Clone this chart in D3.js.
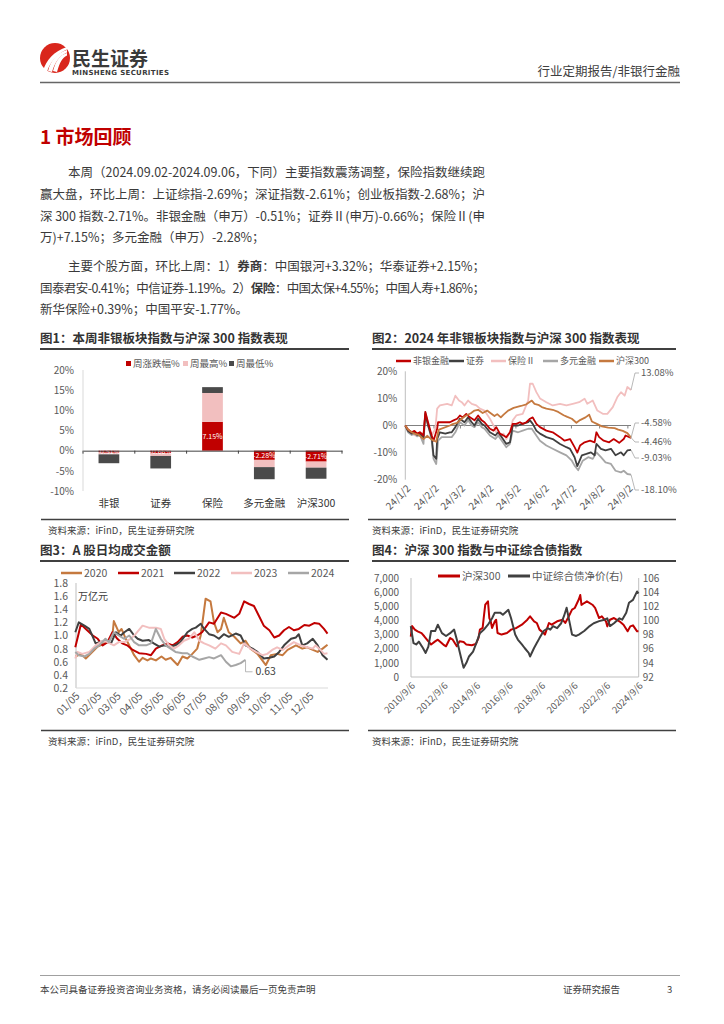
<!DOCTYPE html>
<html>
<head>
<meta charset="utf-8">
<script src="https://cdn.jsdelivr.net/npm/d3@7"></script>
<style>
body { margin: 0; background: #fff; }
svg { display: block; font-family: "Noto Sans CJK SC", "Noto Sans", sans-serif; }
</style>
</head>
<body>
<script>
// ---------- data ----------
// fig 1: weekly performance (stacked segments)
var fig1Cats = ["非银", "证券", "保险", "多元金融", "沪深300"];
var fig1Keys = ["周涨跌幅%", "周最高%", "周最低%"];
var fig1Change = [-0.51, -0.66, 7.15, -2.28, -2.71];
var fig1High = [-0.4, -0.65, 7.15, -1.8, -1.5];
var fig1Low = [-2.2, -3.1, 1.45, -3.0, -2.75];

// fig 2: 2024 ytd, % (date MM-DD, value)
var fig2Names = ["非银金融", "证券", "保险Ⅱ", "多元金融", "沪深300"];
var fig2Feiyin = [["01-02",0],["01-05",-1.5],["01-09",-2.5],["01-12",-2],["01-15",-3],["01-18",-2.5],["01-22",-3.7],["01-24",5],["01-27",1.2],["01-31",-3.7],["02-02",-5.6],["02-06",-1.2],["02-07",1.2],["02-15",1.2],["02-20",1.2],["02-24",1.9],["02-28",2.5],["03-02",3.7],["03-05",3],["03-09",4.3],["03-13",3],["03-18",1.9],["03-22",3.7],["03-26",1.9],["03-29",1.2],["04-04",-1.2],["04-08",-1.9],["04-11",-0.6],["04-15",-3],["04-19",-3.7],["04-22",-4.3],["04-26",-2.5],["04-29",0.6],["05-03",0.6],["05-07",1.2],["05-10",0.6],["05-14",1.2],["05-18",2.5],["05-21",3],["05-25",0.6],["05-29",-0.6],["06-05",-1.9],["06-12",-2.5],["06-20",-4.3],["06-25",-5.6],["07-01",-5],["07-06",-8],["07-09",-10],["07-12",-7.4],["07-17",-6.2],["07-23",-5.6],["07-28",-6.2],["07-30",-2.5],["08-02",-4.3],["08-07",-5.6],["08-13",-6.2],["08-18",-5],["08-24",-6.4],["08-29",-5],["08-31",-3.7],["09-06",-4.58]];
var fig2Zhengquan = [["01-02",0],["01-05",-2],["01-09",-3],["01-12",-2.5],["01-15",-3.5],["01-18",-3],["01-22",-4.5],["01-24",4.3],["01-27",0],["01-31",-4.3],["02-02",-11],["02-05",-12.3],["02-06",-5],["02-09",-2.5],["02-15",-3],["02-20",-2.5],["02-22",-2.5],["02-26",-0.6],["03-02",2.5],["03-07",1.2],["03-11",3],["03-15",1.2],["03-18",0],["03-22",2.5],["03-26",0.6],["03-29",0],["04-04",-2.5],["04-10",-3.7],["04-13",-2.5],["04-17",-4.3],["04-22",-6.8],["04-26",-6.2],["04-29",0],["05-05",0],["05-10",0.6],["05-16",1.2],["05-18",1.9],["05-21",0.6],["05-25",-1.9],["05-29",-3],["06-05",-4.3],["06-12",-5],["06-20",-6.8],["06-27",-8],["07-01",-8.6],["07-06",-11.7],["07-09",-15],["07-14",-11],["07-19",-10.5],["07-24",-9.9],["07-28",-11],["07-30",-6.8],["08-04",-8.6],["08-09",-9.2],["08-15",-8.6],["08-20",-11],["08-26",-9.9],["08-29",-11],["09-02",-9.2],["09-06",-9.03]];
var fig2Baoxian = [["01-02",0],["01-05",-2],["01-09",-3],["01-13",-3.7],["01-18",-2.5],["01-22",-3],["01-24",4.3],["01-27",0],["01-31",-3.7],["02-04",-1.2],["02-06",6.2],["02-09",7.4],["02-17",8],["02-22",7.4],["02-26",11],["03-01",9.2],["03-04",8.6],["03-07",7.4],["03-11",9.2],["03-15",8],["03-20",7.4],["03-24",6.2],["03-29",5.5],["04-04",2.5],["04-08",0],["04-11",-2.5],["04-15",-3.7],["04-19",-3],["04-22",-5],["04-26",-2.5],["04-29",1.9],["05-03",3.7],["05-10",4.3],["05-16",9.2],["05-18",15.4],["05-21",15.4],["05-25",12.3],["05-29",10],["06-05",8.6],["06-12",7.4],["06-20",8],["06-27",7.4],["07-04",8],["07-11",8.6],["07-17",9.9],["07-20",8],["07-26",9.2],["07-31",5.5],["08-06",4.3],["08-11",4.3],["08-17",6.8],["08-22",10.5],["08-26",12.3],["08-30",11],["09-02",14.2],["09-06",13.08]];
var fig2Duoyuan = [["01-02",0],["01-05",-2.5],["01-09",-3.5],["01-12",-3],["01-15",-4],["01-18",-3.5],["01-22",-6.8],["01-24",5],["01-27",0.6],["01-31",-5.6],["02-02",-12.3],["02-05",-14.2],["02-07",-5.6],["02-11",-4.3],["02-20",-4.3],["02-22",-4.3],["02-26",-2.5],["03-02",1.2],["03-07",0],["03-11",1.9],["03-15",0],["03-18",-0.6],["03-22",1.2],["03-26",-0.6],["03-29",-1.2],["04-04",-3.7],["04-10",-5],["04-13",-3.7],["04-17",-5.6],["04-22",-8],["04-26",-6.8],["04-29",-1.9],["05-05",-2.5],["05-10",-1.9],["05-16",-1.2],["05-20",-1.2],["05-25",-3.7],["05-29",-5.6],["06-05",-7.4],["06-12",-8.6],["06-20",-9.9],["06-27",-11],["07-03",-13],["07-06",-14.8],["07-10",-16.5],["07-15",-13],["07-21",-11.7],["07-26",-12.3],["07-30",-9.9],["08-04",-11.7],["08-09",-13.6],["08-15",-14.2],["08-20",-16.7],["08-26",-17.3],["08-29",-16.7],["09-02",-17.9],["09-06",-18.1]];
var fig2Hs300 = [["01-02",0],["01-05",-1.5],["01-09",-2.5],["01-12",-3],["01-17",-3.5],["01-22",-5],["01-26",-3.8],["01-31",-5.2],["02-05",-6],["02-07",-2.5],["02-08",-1.5],["02-20",0],["02-23",0.5],["02-28",1],["03-04",2.5],["03-08",3.5],["03-14",4.5],["03-18",5.5],["03-22",5.8],["03-27",4.6],["04-01",5.5],["04-03",5],["04-09",3.5],["04-12",4.2],["04-16",3],["04-19",4],["04-24",5.5],["04-30",6.5],["05-08",7.2],["05-14",7.8],["05-20",9.2],["05-23",8],["05-28",7.5],["05-31",6.8],["06-05",6.2],["06-12",5.8],["06-18",5],["06-24",3.8],["06-28",3.2],["07-03",2.5],["07-08",1],["07-12",2],["07-18",3],["07-22",4],["07-25",1.5],["07-31",0.5],["08-05",-0.3],["08-12",-0.8],["08-19",-1],["08-23",-1.5],["08-28",-2],["09-02",-2.8],["09-06",-4.46]];
var fig2EndLabels = ["-4.58%", "-9.03%", "13.08%", "-18.10%", "-4.46%"];
var fig2YTicks = [-20, -10, 0, 10, 20];

// fig 3: A-share daily turnover, trillion yuan
var fig3Years = ["2020", "2021", "2022", "2023", "2024"];
var fig3Y2020 = [["01-05",0.68],["01-13",0.72],["01-20",0.65],["02-06",0.83],["02-20",0.9],["02-27",1.0],["03-01",1.22],["03-08",1.05],["03-12",1.1],["03-18",0.95],["03-23",0.85],["03-30",0.7],["04-06",0.6],["04-11",0.66],["04-18",0.62],["04-23",0.65],["04-30",0.62],["05-08",0.68],["05-14",0.63],["05-21",0.66],["05-31",0.55],["06-07",0.68],["06-14",0.65],["06-21",0.72],["06-28",0.8],["07-03",1.0],["07-10",1.56],["07-17",1.52],["07-22",1.2],["07-27",1.05],["08-01",1.1],["08-05",1.27],["08-12",1.05],["08-20",0.98],["08-29",0.88],["09-05",0.92],["09-12",0.8],["09-22",0.72],["10-04",0.55],["10-11",0.7],["10-20",0.72],["10-28",0.7],["11-04",0.78],["11-16",0.85],["11-25",0.8],["12-02",0.82],["12-10",0.78],["12-17",0.75],["12-24",0.8],["12-31",0.86]];
var fig3Y2021 = [["01-05",0.82],["01-13",1.17],["01-20",1.1],["01-30",1.0],["02-06",0.95],["02-13",0.85],["02-20",0.9],["02-27",1.05],["03-06",0.95],["03-13",0.88],["03-20",0.85],["03-28",0.78],["04-06",0.73],["04-16",0.72],["04-23",0.7],["04-30",0.8],["05-09",0.85],["05-17",0.88],["05-24",0.85],["05-31",0.9],["06-07",0.98],["06-14",1.0],["06-21",0.97],["06-28",1.0],["07-05",1.05],["07-15",1.2],["07-22",1.18],["08-01",1.35],["08-08",1.33],["08-20",1.27],["08-27",1.33],["09-03",1.52],["09-10",1.48],["09-17",1.45],["09-24",1.3],["10-01",1.15],["10-09",1.08],["10-16",0.97],["10-23",1.0],["10-30",1.08],["11-06",1.13],["11-13",1.08],["11-20",1.1],["11-28",1.16],["12-05",1.15],["12-12",1.19],["12-19",1.18],["12-26",1.1],["12-31",1.03]];
var fig3Y2022 = [["01-05",1.05],["01-10",1.2],["01-18",1.15],["01-25",1.1],["01-30",0.98],["02-03",0.88],["02-10",0.9],["02-17",0.92],["02-25",0.88],["03-04",1.05],["03-11",1.0],["03-16",1.05],["03-23",1.1],["03-30",1.0],["04-04",0.95],["04-11",0.92],["04-20",0.93],["04-27",0.88],["05-05",0.83],["05-12",0.85],["05-19",0.83],["05-28",0.85],["06-04",0.9],["06-14",1.05],["06-21",1.1],["06-26",1.12],["07-03",1.18],["07-08",1.1],["07-15",1.02],["07-22",1.0],["07-29",0.95],["08-05",1.02],["08-12",0.98],["08-22",1.03],["08-29",1.0],["09-05",0.85],["09-15",0.8],["09-22",0.75],["10-01",0.65],["10-09",0.66],["10-16",0.68],["10-23",0.75],["10-30",0.85],["11-09",0.95],["11-16",0.97],["11-20",1.02],["11-25",0.85],["12-02",0.88],["12-10",0.95],["12-17",0.85],["12-24",0.7],["12-31",0.63]];
var fig3Y2023 = [["01-05",0.65],["01-08",0.75],["01-15",0.72],["01-25",0.75],["02-03",0.85],["02-13",0.92],["02-20",0.9],["03-01",0.85],["03-08",0.9],["03-16",0.9],["03-25",0.95],["04-01",1.02],["04-11",1.15],["04-20",1.12],["04-30",1.12],["05-07",1.1],["05-12",0.95],["05-19",0.85],["05-26",0.8],["06-02",0.85],["06-09",0.92],["06-16",0.95],["06-24",1.05],["07-01",0.92],["07-08",0.88],["07-15",0.85],["07-24",0.8],["08-01",0.88],["08-08",0.85],["08-17",0.75],["08-27",0.72],["09-03",0.88],["09-12",0.8],["09-20",0.75],["09-29",0.7],["10-06",0.72],["10-13",0.78],["10-20",0.82],["10-28",0.78],["11-06",0.85],["11-13",0.9],["11-23",0.85],["12-02",0.82],["12-10",0.8],["12-14",0.85],["12-21",0.78],["12-26",0.72],["12-31",0.73]];
var fig3Y2024 = [["01-05",0.75],["01-10",0.7],["01-18",0.68],["01-25",0.72],["02-01",0.8],["02-08",0.85],["02-17",0.95],["02-22",0.9],["03-01",1.05],["03-08",1.0],["03-16",0.95],["03-23",1.0],["03-30",0.9],["04-06",0.85],["04-16",0.85],["04-23",0.88],["04-30",1.1],["05-07",0.95],["05-14",0.85],["05-21",0.8],["05-28",0.75],["06-07",0.73],["06-14",0.73],["06-21",0.68],["07-01",0.63],["07-08",0.65],["07-15",0.67],["07-22",0.65],["08-01",0.7],["08-08",0.6],["08-15",0.53],["08-22",0.55],["08-29",0.58],["09-05",0.63]];
var fig3YTicks = [0.2, 0.4, 0.6, 0.8, 1.0, 1.2, 1.4, 1.6, 1.8];

// fig 4: CSI300 (left) vs CSI aggregate bond clean price (right)
var fig4Names = ["沪深300", "中证综合债净价(右)"];
var fig4Hs300 = [["2010-09",2850],["2010-10",3600],["2010-12",3350],["2011-02",3230],["2011-05",3100],["2011-07",2880],["2011-10",2520],["2011-12",2300],["2012-03",2520],["2012-05",2640],["2012-09",2290],["2012-11",2170],["2013-02",2760],["2013-04",2640],["2013-07",2170],["2013-09",2520],["2013-12",2480],["2014-02",2290],["2014-06",2240],["2014-09",2330],["2014-11",2760],["2014-12",3350],["2015-02",3470],["2015-03",4290],["2015-04",5110],["2015-06",5350],["2015-07",4170],["2015-08",3940],["2015-09",3470],["2015-11",3940],["2015-12",4050],["2016-01",3110],["2016-04",3000],["2016-08",3110],["2016-11",3350],["2017-03",3470],["2017-07",3700],["2017-11",4050],["2018-01",4290],["2018-04",3940],["2018-06",3820],["2018-08",3350],["2018-11",3110],["2018-12",3000],["2019-03",3820],["2019-05",3700],["2019-09",3940],["2020-01",4050],["2020-03",3820],["2020-05",4170],["2020-08",4760],["2020-10",4880],["2021-01",5500],["2021-02",5800],["2021-03",5100],["2021-05",5230],["2021-07",5350],["2021-11",5110],["2022-01",4880],["2022-04",4170],["2022-06",4290],["2022-09",3940],["2022-10",3580],["2022-12",4050],["2023-03",4170],["2023-07",3940],["2023-10",3700],["2024-01",3230],["2024-03",3580],["2024-05",3650],["2024-08",3230],["2024-09",3230]];
var fig4Bond = [["2010-09",99.2],["2010-11",96.8],["2011-01",96.6],["2011-03",97.0],["2011-06",96.1],["2011-08",95.4],["2011-10",96.3],["2011-12",98.5],["2012-03",98.5],["2012-05",99.4],["2012-08",98.2],["2012-11",97.8],["2013-02",98.2],["2013-05",98.7],["2013-07",97.3],["2013-09",95.6],["2013-11",94.0],["2013-12",93.3],["2014-02",94.0],["2014-04",94.9],["2014-07",95.6],["2014-09",96.6],["2014-12",98.2],["2015-03",98.7],["2015-06",99.4],["2015-09",100.3],["2015-11",101.1],["2016-03",101.1],["2016-05",100.8],["2016-09",101.5],["2016-11",100.3],["2017-02",98.0],["2017-04",97.3],["2017-07",96.6],["2017-09",96.1],["2017-12",95.4],["2018-01",94.9],["2018-04",96.1],["2018-06",96.8],["2018-08",97.5],["2018-11",98.5],["2019-02",98.9],["2019-04",98.7],["2019-06",99.2],["2019-09",98.9],["2019-12",99.6],["2020-02",100.6],["2020-04",101.8],["2020-06",99.9],["2020-08",98.0],["2020-11",97.8],["2021-01",98.0],["2021-05",98.5],["2021-09",99.2],["2021-12",99.6],["2022-04",99.9],["2022-08",100.1],["2022-10",100.3],["2022-12",99.2],["2023-03",99.6],["2023-07",100.3],["2023-09",100.1],["2023-12",101.1],["2024-02",102.5],["2024-05",102.9],["2024-08",104.1],["2024-09",103.8]];
var fig4LeftTicks = [0, 1000, 2000, 3000, 4000, 5000, 6000, 7000];
var fig4RightTicks = [92, 94, 96, 98, 100, 102, 104, 106];

// ---------- page ----------
var W = 724, H = 1024;
var RED = "#c00000", DARK = "#404040", PINK = "#f2bfbf", GRAY = "#a6a6a6", BROWN = "#c5793f";
var AXT = "#595959";

var svg = d3.select("body").append("svg").attr("width", W).attr("height", H);
svg.append("rect").attr("width", W).attr("height", H).attr("fill", "#fff");

// header
svg.append("circle").attr("cx", 55).attr("cy", 58).attr("r", 15).attr("fill", "#d9261c");
[0, 5, 10].forEach(function (o) {
	svg.append("path")
		.attr("d", "M" + (43 + o) + ",71 C" + (46 + o) + ",60 " + (54 + o * 0.6) + "," + (51 + o * 0.4) + " 67," + (47 + o * 0.6) +
			" L67," + (49.5 + o * 0.6) + " C" + (57 + o * 0.5) + "," + (54 + o * 0.4) + " " + (50 + o) + ",62 " + (47 + o) + ",72 Z")
		.attr("fill", "#fff");
});
svg.append("text").attr("x", 72).attr("y", 66).attr("font-size", 19).attr("font-weight", "bold")
	.attr("fill", "#3a3a3a").text("民生证券");
svg.append("text").attr("x", 72).attr("y", 75).attr("font-size", 7).attr("font-weight", "bold")
	.attr("font-family", "DejaVu Sans, sans-serif").attr("textLength", 97).attr("fill", "#3a3a3a").text("MINSHENG SECURITIES");
svg.append("text").attr("x", 680).attr("y", 76).attr("text-anchor", "end").attr("font-size", 12.5)
	.attr("fill", "#404040").text("行业定期报告/非银行金融");
svg.append("line").attr("x1", 40).attr("x2", 680).attr("y1", 82.5).attr("y2", 82.5)
	.attr("stroke", "#666").attr("stroke-width", 1.5);

svg.append("text").attr("x", 40).attr("y", 144).attr("font-size", 19).attr("font-weight", "bold")
	.attr("fill", RED).text("1 市场回顾");

// body paragraphs: [x, baseline, justified width or 0, parts]
var bodyLines = [
	[68, 176.5, 417, [["本周（2024.09.02-2024.09.06，下同）主要指数震荡调整，保险指数继续跑"]]],
	[40, 198.5, 445, [["赢大盘，环比上周：上证综指-2.69%；深证指数-2.61%；创业板指数-2.68%；沪"]]],
	[40, 220.5, 445, [["深 300 指数-2.71%。非银金融（申万）-0.51%；证券Ⅱ(申万)-0.66%；保险Ⅱ(申"]]],
	[40, 241.5, 0, [["万)+7.15%；多元金融（申万）-2.28%；"]]],
	[68, 270.5, 417, [["主要个股方面，环比上周：1）"], ["券商", 1], ["：中国银河+3.32%；华泰证券+2.15%；"]]],
	[40, 292.5, 445, [["国泰君安-0.41%；中信证券-1.19%。2）"], ["保险", 1], ["：中国太保+4.55%；中国人寿+1.86%；"]]],
	[40, 313.5, 0, [["新华保险+0.39%；中国平安-1.77%。"]]]
];
bodyLines.forEach(function (l) {
	var t = svg.append("text").attr("x", l[0]).attr("y", l[1]).attr("font-size", 12.5).attr("fill", "#3a3a3a");
	if (l[2]) t.attr("textLength", l[2]).attr("lengthAdjust", "spacing");
	l[3].forEach(function (p) {
		t.append("tspan").attr("font-weight", p[1] ? "bold" : "normal").text(p[0]);
	});
});

// figure frame helpers
function figTitle(x, x2, y, txt) {
	svg.append("text").attr("x", x).attr("y", y).attr("font-size", 12.5).attr("font-weight", "bold")
		.attr("fill", "#333").text(txt);
	svg.append("line").attr("x1", x).attr("x2", x2).attr("y1", y + 6).attr("y2", y + 6)
		.attr("stroke", "#404040").attr("stroke-width", 1.8);
}
function figSource(x1, x2, tx, y) {
	svg.append("line").attr("x1", x1).attr("x2", x2).attr("y1", y).attr("y2", y)
		.attr("stroke", "#404040").attr("stroke-width", 1.5);
	svg.append("text").attr("x", tx).attr("y", y + 14).attr("font-size", 9.5).attr("fill", "#404040")
		.text("资料来源：iFinD，民生证券研究院");
}
function styleAxis(g, size, color) {
	g.select(".domain").remove();
	g.selectAll("text").attr("font-family", "Noto Sans CJK SC, Noto Sans, sans-serif")
		.attr("font-size", size).attr("fill", color || AXT);
}
function rotLabels(g, dx, dy) {
	g.selectAll("text").attr("text-anchor", "end").attr("x", 0).attr("y", 0).attr("dy", "0.35em")
		.attr("transform", "translate(" + dx + "," + dy + ") rotate(-45)");
}
var parseDay = d3.timeParse("%Y-%m-%d");
var parseMonth = d3.timeParse("%Y-%m");

figTitle(40, 349, 343, "图1：本周非银板块指数与沪深 300 指数表现");
figTitle(372, 676, 343, "图2：2024 年非银板块指数与沪深 300 指数表现");
figTitle(40, 349, 555, "图3：A 股日均成交金额");
figTitle(372, 676, 555, "图4：沪深 300 指数与中证综合债指数");
figSource(41, 349, 48, 519.5);
figSource(368, 676, 372, 519.5);
figSource(41, 349, 48, 730.5);
figSource(368, 676, 372, 730.5);

// ---------- fig 1 ----------
var rows1 = fig1Cats.map(function (c, i) {
	return { cat: c, k0: fig1Change[i], k1: fig1High[i], k2: fig1Low[i] };
});
var x1 = d3.scaleBand().domain(fig1Cats).range([83, 342]).paddingInner(0.6).paddingOuter(0.3);
var y1 = d3.scaleLinear().domain([-10, 20]).range([491, 370]);
var stack1 = d3.stack().keys(["k0", "k1", "k2"]).offset(d3.stackOffsetDiverging)(rows1);
var col1 = [RED, PINK, "#4a4a4a"];

svg.append("line").attr("x1", 83).attr("x2", 83).attr("y1", y1(20)).attr("y2", y1(-10))
	.attr("stroke", "#d9d9d9");
var ya1 = svg.append("g").attr("transform", "translate(83,0)")
	.call(d3.axisLeft(y1).tickValues([-10, -5, 0, 5, 10, 15, 20]).tickSize(0).tickPadding(9)
		.tickFormat(function (d) { return d + "%"; }));
styleAxis(ya1, 10);

stack1.forEach(function (s, k) {
	svg.append("g").selectAll("rect").data(s).enter().append("rect")
		.attr("x", function (d) { return x1(d.data.cat); })
		.attr("width", x1.bandwidth())
		.attr("y", function (d) { return y1(Math.max(d[0], d[1])); })
		.attr("height", function (d) { return Math.abs(y1(d[0]) - y1(d[1])); })
		.attr("fill", col1[k]);
});
svg.append("g").selectAll("text").data(stack1[0]).enter().append("text")
	.attr("x", function (d) { return x1(d.data.cat) + x1.bandwidth() / 2; })
	.attr("y", function (d) { return (y1(d[0]) + y1(d[1])) / 2; })
	.attr("dy", "0.35em").attr("text-anchor", "middle").attr("font-size", 7).attr("fill", "#fff")
	.text(function (d) { return d.data.k0.toFixed(2) + "%"; });

// zero line with band ticks
var xa1 = svg.append("g").attr("transform", "translate(0," + y1(0) + ")")
	.call(d3.axisBottom(x1).tickSize(0).tickPadding(0).tickFormat(""));
xa1.select(".domain").attr("stroke", "#404040");
xa1.selectAll(".tick").remove();
fig1Cats.concat([null]).forEach(function (c, i) {
	var bx = 83 + i * x1.step();
	svg.append("line").attr("x1", bx).attr("x2", bx).attr("y1", y1(0)).attr("y2", y1(0) + 3)
		.attr("stroke", "#404040");
});
svg.append("g").selectAll("text").data(fig1Cats).enter().append("text")
	.attr("x", function (d) { return x1(d) + x1.bandwidth() / 2; })
	.attr("y", 507).attr("text-anchor", "middle").attr("font-size", 10.5).attr("fill", "#333")
	.text(function (d) { return d; });

// legend
var leg1x = [126, 183, 229];
fig1Keys.forEach(function (k, i) {
	svg.append("rect").attr("x", leg1x[i]).attr("y", 361).attr("width", 5).attr("height", 5).attr("fill", col1[i]);
	svg.append("text").attr("x", leg1x[i] + 7).attr("y", 367).attr("font-size", 9.5).attr("fill", AXT).text(k);
});

// ---------- fig 2 ----------
var x2 = d3.scaleTime().domain([parseDay("2024-01-02"), parseDay("2024-09-06")]).range([405.3, 631]);
var y2 = d3.scaleLinear().domain([-20, 20]).range([479.7, 371.3]);
var series2 = [fig2Feiyin, fig2Zhengquan, fig2Baoxian, fig2Duoyuan, fig2Hs300];
var col2 = [RED, DARK, PINK, GRAY, BROWN];
var line2 = d3.line()
	.x(function (d) { return x2(parseDay("2024-" + d[0])); })
	.y(function (d) { return y2(d[1]); });

svg.append("line").attr("x1", 405.3).attr("x2", 405.3).attr("y1", y2(20)).attr("y2", y2(-20))
	.attr("stroke", "#bfbfbf");
var ya2 = svg.append("g").attr("transform", "translate(405.3,0)")
	.call(d3.axisLeft(y2).tickValues(fig2YTicks).tickSize(0).tickPadding(8)
		.tickFormat(function (d) { return d + "%"; }));
styleAxis(ya2, 10);

var monthTicks2 = d3.range(9).map(function (m) { return new Date(2024, m, 2); });
var za2 = svg.append("g").attr("transform", "translate(0," + y2(0) + ")")
	.call(d3.axisBottom(x2).tickValues(monthTicks2).tickSize(3).tickFormat(""));
za2.select(".domain").attr("stroke", "#808080").attr("d", "M405.3,0H631");
za2.selectAll(".tick line").attr("stroke", "#808080");

var xa2 = svg.append("g").attr("transform", "translate(0," + y2(-20) + ")")
	.call(d3.axisBottom(x2).tickValues(monthTicks2).tickSize(0)
		.tickFormat(function (d) { return "24/" + (d.getMonth() + 1) + "/2"; }));
styleAxis(xa2, 10);
rotLabels(xa2, 3, 7);

[2, 3, 1, 0, 4].forEach(function (i) {
	svg.append("path").datum(series2[i]).attr("d", line2).attr("fill", "none")
		.attr("stroke", col2[i]).attr("stroke-width", 1.8).attr("stroke-linejoin", "round");
});

// end labels with leader lines
var endY2 = [423, 458, 373, 490, 442];
series2.forEach(function (s, i) {
	var last = s[s.length - 1];
	var ex = x2(parseDay("2024-" + last[0])), ey = y2(last[1]);
	svg.append("path").attr("d", "M" + ex + "," + ey + "L" + (ex + 4) + "," + endY2[i] + "L" + (ex + 8) + "," + endY2[i])
		.attr("fill", "none").attr("stroke", "#a6a6a6").attr("stroke-width", 0.8);
	svg.append("text").attr("x", ex + 10).attr("y", endY2[i]).attr("dy", "0.35em")
		.attr("font-size", 9.5).attr("fill", AXT).text(fig2EndLabels[i]);
});

// legend
var leg2x = [396, 449, 491, 543, 599];
fig2Names.forEach(function (n, i) {
	svg.append("line").attr("x1", leg2x[i]).attr("x2", leg2x[i] + 15).attr("y1", 361).attr("y2", 361)
		.attr("stroke", col2[i]).attr("stroke-width", 2.5);
	svg.append("text").attr("x", leg2x[i] + 17).attr("y", 361).attr("dy", "0.35em")
		.attr("font-size", 9).attr("fill", AXT).text(n);
});

// ---------- fig 3 ----------
var x3 = d3.scaleTime().domain([parseDay("2021-01-01"), parseDay("2021-12-31")]).range([72.5, 327.5]);
var y3 = d3.scaleLinear().domain([0.2, 1.8]).range([688, 583]);
var series3 = [fig3Y2020, fig3Y2021, fig3Y2022, fig3Y2023, fig3Y2024];
var col3 = [BROWN, RED, DARK, PINK, GRAY];
var line3 = d3.line()
	.x(function (d) { return x3(parseDay("2021-" + d[0])); })
	.y(function (d) { return y3(d[1]); });

svg.append("line").attr("x1", 76).attr("x2", 76).attr("y1", y3(1.8)).attr("y2", y3(0.2)).attr("stroke", "#bfbfbf");
svg.append("line").attr("x1", 76).attr("x2", 328).attr("y1", y3(0.2)).attr("y2", y3(0.2)).attr("stroke", "#d9d9d9");
var ya3 = svg.append("g").attr("transform", "translate(76,0)")
	.call(d3.axisLeft(y3).tickValues(fig3YTicks).tickSize(0).tickPadding(8).tickFormat(d3.format(".1f")));
styleAxis(ya3, 10.5);
var monthTicks3 = d3.range(12).map(function (m) { return new Date(2021, m, 5); });
var xa3 = svg.append("g").attr("transform", "translate(0," + y3(0.2) + ")")
	.call(d3.axisBottom(x3).tickValues(monthTicks3).tickSize(0).tickFormat(d3.timeFormat("%m/%d")));
styleAxis(xa3, 10.5);
rotLabels(xa3, 2, 6);

svg.append("text").attr("x", 78).attr("y", 596).attr("dy", "0.35em").attr("font-size", 10)
	.attr("fill", "#404040").text("万亿元");

series3.forEach(function (s, i) {
	svg.append("path").datum(s).attr("d", line3).attr("fill", "none")
		.attr("stroke", col3[i]).attr("stroke-width", 2).attr("stroke-linejoin", "round");
});
var last3 = fig3Y2024[fig3Y2024.length - 1];
var lx3 = x3(parseDay("2021-" + last3[0])), ly3 = y3(last3[1]);
svg.append("path").attr("d", "M" + lx3 + "," + (ly3 + 1) + "V" + (ly3 + 12) + "H" + (lx3 + 7))
	.attr("fill", "none").attr("stroke", "#a6a6a6").attr("stroke-width", 0.8);
svg.append("text").attr("x", lx3 + 10).attr("y", ly3 + 12).attr("dy", "0.35em")
	.attr("font-size", 10.5).attr("fill", "#404040").text(last3[1].toFixed(2));

var leg3x = [61, 118, 174, 231, 288];
fig3Years.forEach(function (n, i) {
	svg.append("line").attr("x1", leg3x[i]).attr("x2", leg3x[i] + 21).attr("y1", 573).attr("y2", 573)
		.attr("stroke", col3[i]).attr("stroke-width", 2.5);
	svg.append("text").attr("x", leg3x[i] + 23).attr("y", 573).attr("dy", "0.35em")
		.attr("font-size", 10.5).attr("fill", AXT).text(n);
});

// ---------- fig 4 ----------
var x4 = d3.scaleTime().domain([parseDay("2010-09-06"), parseDay("2024-09-06")]).range([411, 638.7]);
var yL4 = d3.scaleLinear().domain([0, 7000]).range([677, 578]);
var yR4 = d3.scaleLinear().domain([92, 106]).range([677, 578]);

svg.append("line").attr("x1", 411).attr("x2", 411).attr("y1", 578).attr("y2", 677).attr("stroke", "#bfbfbf");
svg.append("line").attr("x1", 638.7).attr("x2", 638.7).attr("y1", 578).attr("y2", 677).attr("stroke", "#bfbfbf");
svg.append("line").attr("x1", 411).attr("x2", 638.7).attr("y1", 677).attr("y2", 677).attr("stroke", "#bfbfbf");

var ya4 = svg.append("g").attr("transform", "translate(411,0)")
	.call(d3.axisLeft(yL4).tickValues(fig4LeftTicks).tickSize(0).tickPadding(12).tickFormat(d3.format(",")));
styleAxis(ya4, 10);
var yr4 = svg.append("g").attr("transform", "translate(638.7,0)")
	.call(d3.axisRight(yR4).tickValues(fig4RightTicks).tickSize(0).tickPadding(4));
styleAxis(yr4, 10);
var yearTicks4 = d3.range(2010, 2025, 2).map(function (y) { return new Date(y, 8, 6); });
var xa4 = svg.append("g").attr("transform", "translate(0,677)")
	.call(d3.axisBottom(x4).tickValues(yearTicks4).tickSize(0)
		.tickFormat(function (d) { return d.getFullYear() + "/9/6"; }));
styleAxis(xa4, 9.5);
rotLabels(xa4, 2, 7);

svg.append("path").datum(fig4Hs300)
	.attr("d", d3.line().x(function (d) { return x4(parseMonth(d[0])); }).y(function (d) { return yL4(d[1]); }))
	.attr("fill", "none").attr("stroke", RED).attr("stroke-width", 2).attr("stroke-linejoin", "round");
svg.append("path").datum(fig4Bond)
	.attr("d", d3.line().x(function (d) { return x4(parseMonth(d[0])); }).y(function (d) { return yR4(d[1]); }))
	.attr("fill", "none").attr("stroke", DARK).attr("stroke-width", 2).attr("stroke-linejoin", "round");

var leg4x = [438, 508];
fig4Names.forEach(function (n, i) {
	svg.append("line").attr("x1", leg4x[i]).attr("x2", leg4x[i] + 22).attr("y1", 576).attr("y2", 576)
		.attr("stroke", [RED, DARK][i]).attr("stroke-width", 3);
	svg.append("text").attr("x", leg4x[i] + 24).attr("y", 576).attr("dy", "0.35em")
		.attr("font-size", 10.5).attr("fill", AXT).text(n);
});

// footer
svg.append("line").attr("x1", 40).attr("x2", 680).attr("y1", 975.5).attr("y2", 975.5)
	.attr("stroke", "#a0a0a0").attr("stroke-width", 1);
svg.append("text").attr("x", 40).attr("y", 993).attr("font-size", 9.5).attr("fill", "#404040")
	.text("本公司具备证券投资咨询业务资格，请务必阅读最后一页免责声明");
svg.append("text").attr("x", 563).attr("y", 993).attr("font-size", 9.5).attr("fill", "#404040").text("证券研究报告");
svg.append("text").attr("x", 667).attr("y", 993).attr("font-size", 9.5).attr("fill", "#404040").text("3");
</script>
</body>
</html>
